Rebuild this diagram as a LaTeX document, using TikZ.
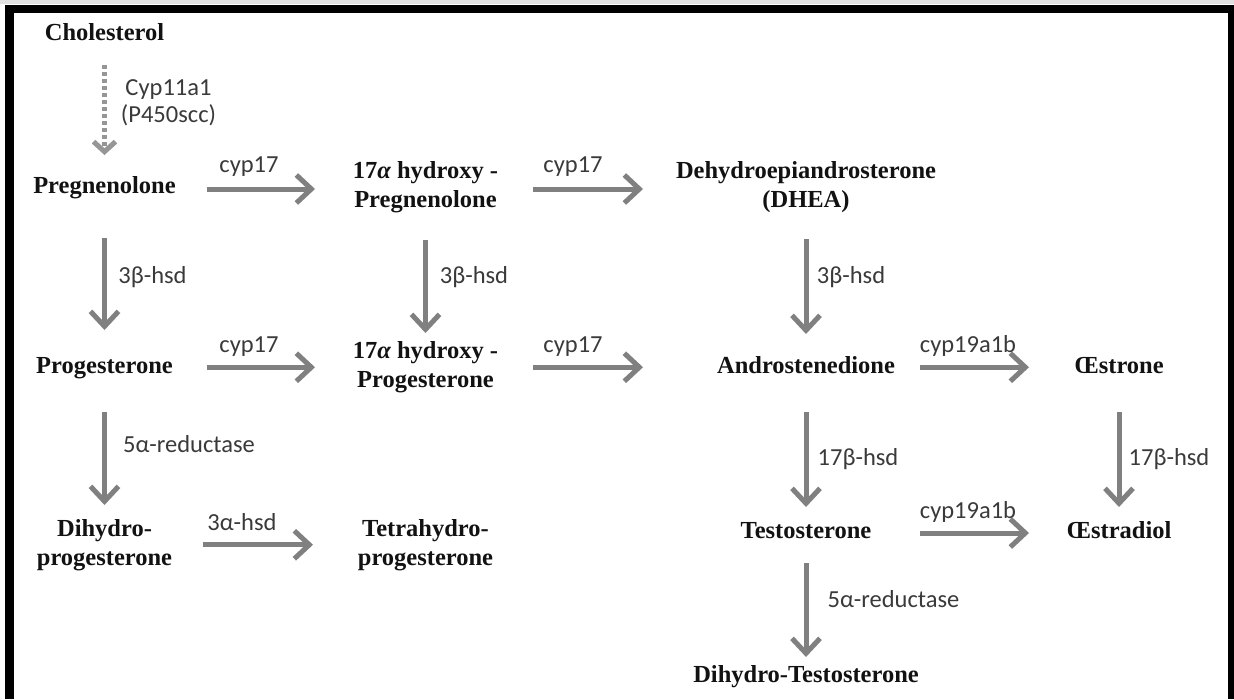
\documentclass[tikz,border=0pt]{standalone}
\usepackage{fontspec}
\setmainfont{Liberation Serif}
\newfontfamily\labfont{Carlito}
\usetikzlibrary{arrows.meta}
\definecolor{arrgray}{RGB}{128,128,128}
\definecolor{dotgray}{RGB}{150,150,150}
\definecolor{txtblack}{RGB}{18,18,18}
\definecolor{labgray}{RGB}{58,58,58}
\definecolor{edgegray}{RGB}{225,225,225}
\newcommand{\cstrut}{\vrule width 0pt height 17pt depth 5.5pt}
\newcommand{\al}{{\itshape α}}
\begin{document}
\begin{tikzpicture}[x=1pt,y=-1pt,
  cmpd/.style={inner sep=0pt, align=center, text=txtblack, font=\fontsize{24.5}{29}\selectfont\bfseries},
  enz/.style={inner sep=0pt, align=center, text=labgray, font=\labfont\fontsize{24.5}{27}\selectfont},
  arr/.style={draw=arrgray, line width=5pt, line cap=butt, -{Straight Barb[length=15pt,width=28pt]}},
  dotarr/.style={draw=dotgray, line width=5pt, dash pattern=on 4pt off 3pt, -{Straight Barb[length=10pt,width=22pt]}}
]
\useasboundingbox (0,0) rectangle (1234,699);
\fill[white] (0,0) rectangle (1234,699);
\fill[edgegray] (0,0) rectangle (1234,4);
% frame
\fill[black] (5,5) rectangle (1234,13);
\fill[black] (5,5) rectangle (14,699);
\fill[black] (1228,5) rectangle (1234,699);

% compounds
\node[cmpd] (chol) at (104.5,34.25) {\cstrut Cholesterol};
\node[cmpd] (preg) at (104.5,187.25) {\cstrut Pregnenolone};
\node[cmpd] (hp) at (425.5,187.25) {\cstrut 17\al{} hydroxy -\\\cstrut Pregnenolone};
\node[cmpd] (dhea) at (806,187.25) {\cstrut Dehydroepiandrosterone\\\cstrut (DHEA)};
\node[cmpd] (prog) at (104.5,367.25) {\cstrut Progesterone};
\node[cmpd] (hprog) at (425.5,367.25) {\cstrut 17\al{} hydroxy -\\\cstrut Progesterone};
\node[cmpd] (andro) at (806,367.25) {\cstrut Androstenedione};
\node[cmpd] (estrone) at (1119,367.25) {\cstrut Œstrone};
\node[cmpd] (dhp) at (104.5,544.75) {\cstrut Dihydro-\\\cstrut progesterone};
\node[cmpd] (thp) at (425.5,544.75) {\cstrut Tetrahydro-\\\cstrut progesterone};
\node[cmpd] (testo) at (806,532.25) {\cstrut Testosterone};
\node[cmpd] (estradiol) at (1119,532.25) {\cstrut Œstradiol};
\node[cmpd] (dht) at (806,676.25) {\cstrut Dihydro-Testosterone};

% enzyme labels
\node[enz] (lcyp11) at (168.5,102.75) {\cstrut Cyp11a1\\\cstrut (P450scc)};
\node[enz] (l1) at (249,166.25) {\cstrut cyp17};
\node[enz] (l2) at (573,166.25) {\cstrut cyp17};
\node[enz] (l3) at (152.5,277.25) {\cstrut 3β-hsd};
\node[enz] (l4) at (474,277.25) {\cstrut 3β-hsd};
\node[enz] (l5) at (851,277.25) {\cstrut 3β-hsd};
\node[enz] (l6) at (249,346.25) {\cstrut cyp17};
\node[enz] (l7) at (573,346.25) {\cstrut cyp17};
\node[enz] (l8) at (968,346.25) {\cstrut cyp19a1b};
\node[enz] (l9) at (189,446.25) {\cstrut 5α-reductase};
\node[enz] (l10) at (242,524.25) {\cstrut 3α-hsd};
\node[enz] (l11) at (858,459.25) {\cstrut 17β-hsd};
\node[enz] (l12) at (1169,459.25) {\cstrut 17β-hsd};
\node[enz] (l13) at (968,512.25) {\cstrut cyp19a1b};
\node[enz] (l14) at (893.5,601.25) {\cstrut 5α-reductase};

% connectors
\draw[dotarr, shorten <=30.75pt, shorten >=32.25pt] (chol.center) -- (preg.center);
\draw[arr, shorten <=102.5pt, shorten >=110.5pt] ([yshift=-1.75pt]preg.center) -- ([yshift=-1.75pt]hp.center);
\draw[arr, shorten <=107.5pt, shorten >=163pt] ([yshift=-1.75pt]hp.center) -- ([yshift=-1.75pt]dhea.center);
\draw[arr, shorten <=50.75pt, shorten >=37.25pt] (preg.center) -- (prog.center);
\draw[arr, shorten <=52.75pt, shorten >=34.25pt] (hp.center) -- (hprog.center);
\draw[arr, shorten <=51.75pt, shorten >=33.25pt] (dhea.center) -- (andro.center);
\draw[arr, shorten <=102.5pt, shorten >=110.5pt] (prog.center) -- (hprog.center);
\draw[arr, shorten <=107.5pt, shorten >=163pt] (hprog.center) -- (andro.center);
\draw[arr, shorten <=114pt, shorten >=90pt] (andro.center) -- (estrone.center);
\draw[arr, shorten <=44.75pt, shorten >=39.75pt] (prog.center) -- (dhp.center);
\draw[arr, shorten <=98.5pt, shorten >=112.5pt] (dhp.center) -- (thp.center);
\draw[arr, shorten <=44.75pt, shorten >=25.25pt] (andro.center) -- (testo.center);
\draw[arr, shorten <=44.75pt, shorten >=25.25pt] (estrone.center) -- (estradiol.center);
\draw[arr, shorten <=114pt, shorten >=90pt] ([yshift=-0.75pt]testo.center) -- ([yshift=-0.75pt]estradiol.center);
\draw[arr, shorten <=30.75pt, shorten >=19.25pt] (testo.center) -- (dht.center);
\end{tikzpicture}
\end{document}
